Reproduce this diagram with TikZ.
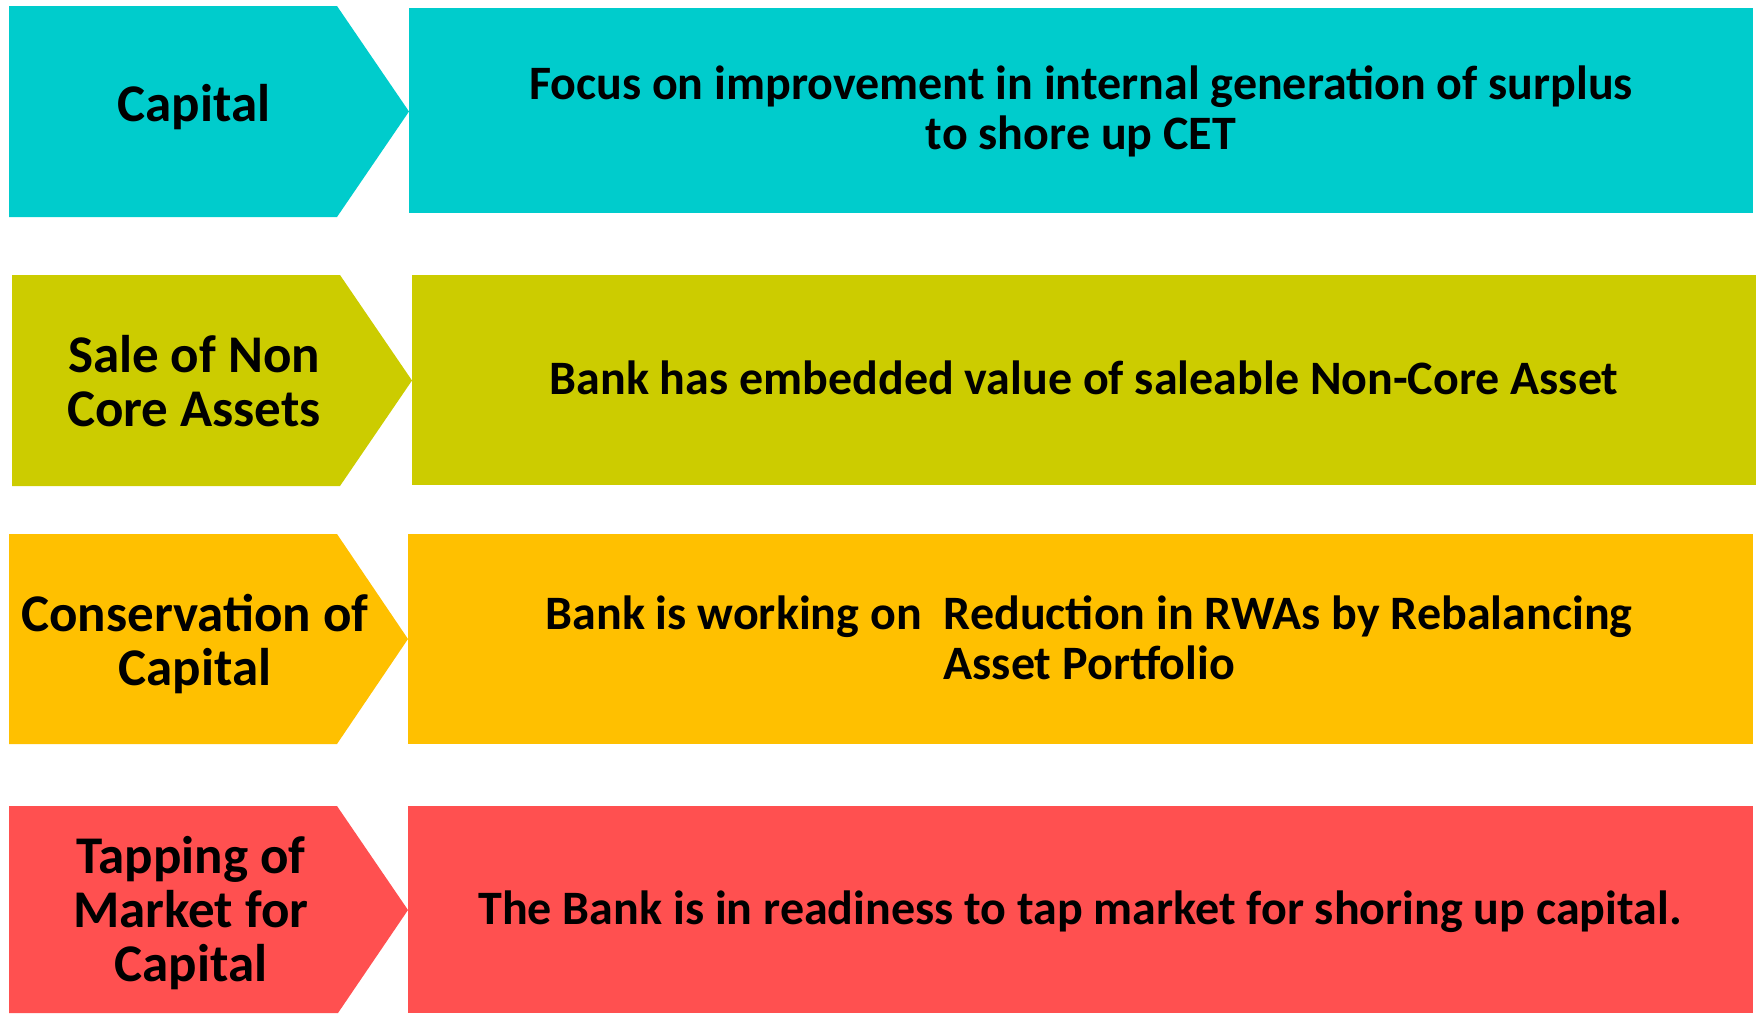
\documentclass[tikz,border=0pt]{standalone}
\usepackage{fontspec}
\setmainfont{Carlito}
\definecolor{cTeal}{RGB}{0,204,204}
\definecolor{cOlive}{RGB}{204,204,0}
\definecolor{cAmber}{RGB}{255,192,0}
\definecolor{cRed}{RGB}{255,80,80}
\tikzset{
  lbl/.style={font=\fontsize{53}{54}\selectfont\bfseries, align=center, inner sep=0pt, text=black},
  desc/.style={font=\fontsize{48}{50}\selectfont\bfseries, align=center, inner sep=0pt, text=black},
}
\begin{document}
\begin{tikzpicture}[x=1pt,y=-1pt]
\useasboundingbox (0,0) rectangle (1756,1013);
% row 1
\fill[cTeal] (9,6) -- (337,6) -- (409,111.5) -- (337,217) -- (9,217) -- cycle;
\fill[cTeal] (409,8) rectangle (1753,213);
\node[lbl] (l1) at (194,107.5) {Capital};
\node[desc] (d1) at (1081,111) {Focus on improvement in internal generation of surplus\\to shore up CET};
% row 2
\fill[cOlive] (12,275) -- (340,275) -- (412,380.5) -- (340,486) -- (12,486) -- cycle;
\fill[cOlive] (412,275) rectangle (1756,485);
\node[lbl] (l2) at (194,381.5) {Sale of Non\\Core Assets};
\node[desc] (d2) at (1084,377.5) {Bank has embedded value of saleable Non-Core Asset};
% row 3
\fill[cAmber] (9,534) -- (337,534) -- (408,639) -- (337,744) -- (9,744) -- cycle;
\fill[cAmber] (408,534) rectangle (1753,744);
\node[lbl] (l3) at (195,644) {Conservation of\\Capital};
\node[desc] (d3) at (1089,644.5) {\begin{tabular}{@{}l@{\hspace{22pt}}l@{}}Bank is working on & Reduction in RWAs by Rebalancing\\ & Asset Portfolio\end{tabular}};
% row 4
\fill[cRed] (9,806) -- (337,806) -- (408,910) -- (338,1013) -- (9,1013) -- cycle;
\fill[cRed] (408,806) rectangle (1753,1013);
\node[lbl] (l4) at (191,913) {Tapping of\\Market for\\Capital};
\node[desc] (d4) at (1080,912) {The Bank is in readiness to tap market for shoring up capital.};
\end{tikzpicture}
\end{document}
